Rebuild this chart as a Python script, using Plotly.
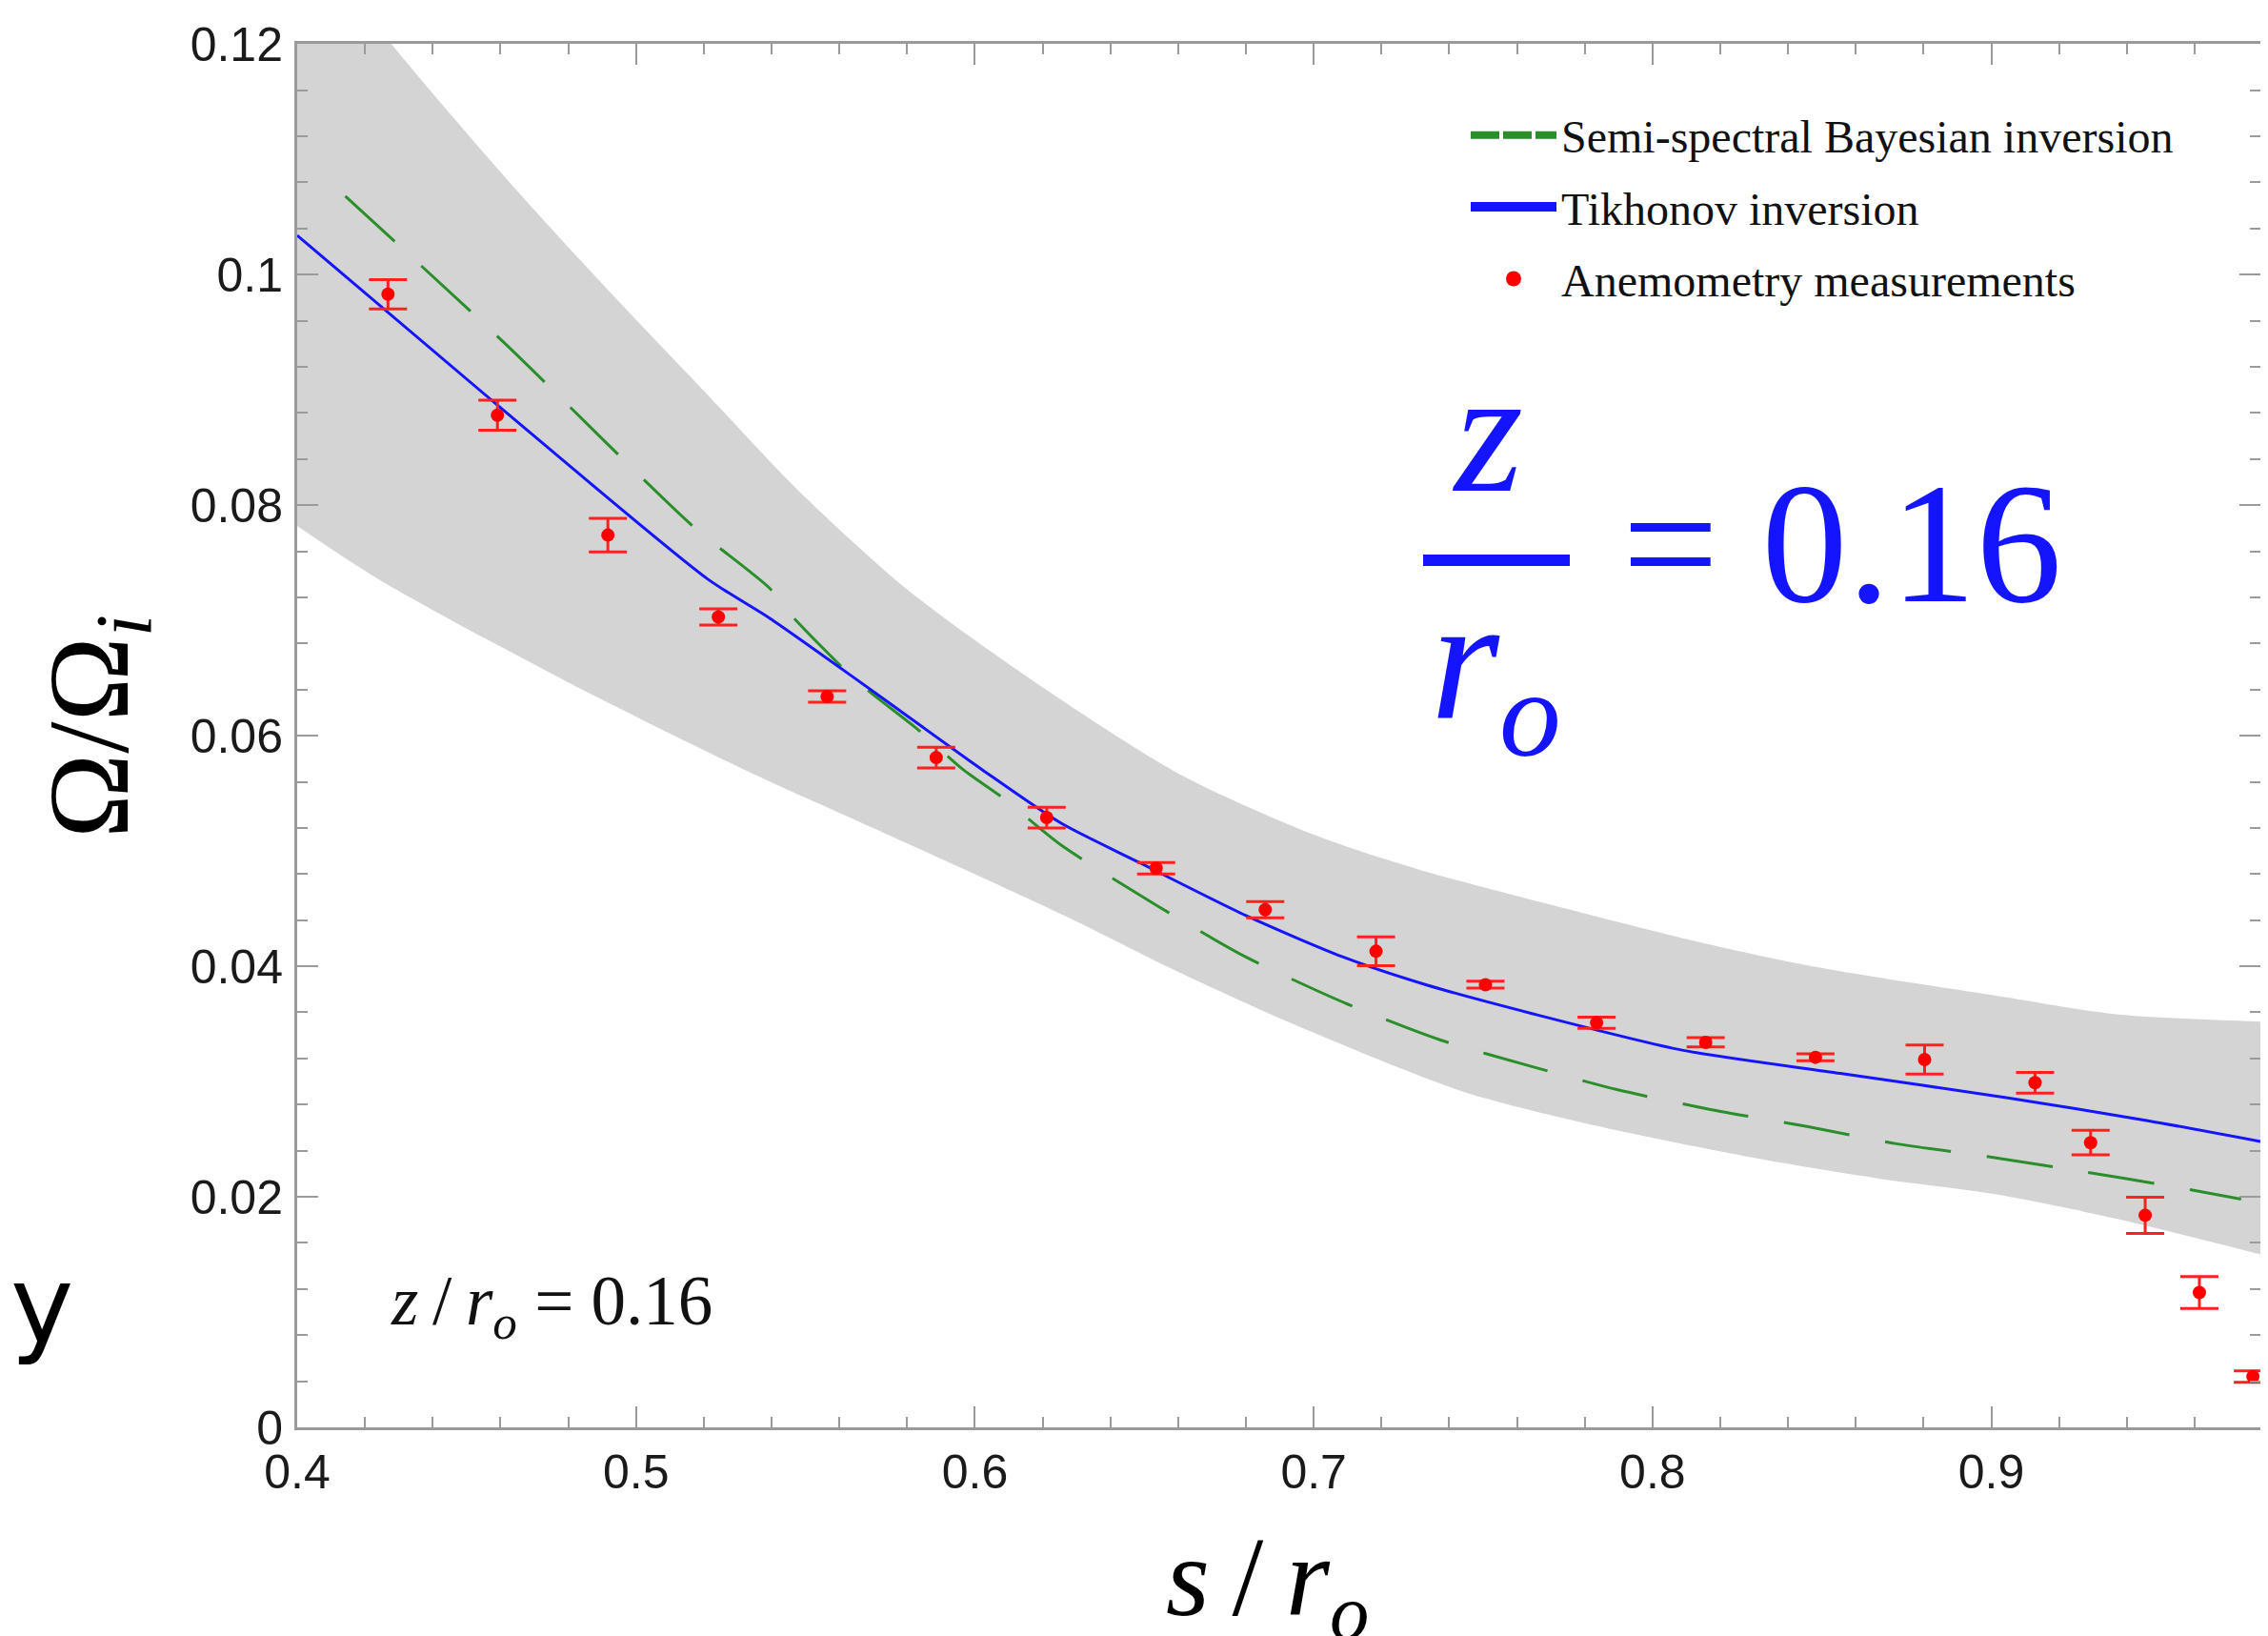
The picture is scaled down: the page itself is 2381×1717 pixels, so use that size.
import plotly.graph_objects as go

# ---------------- data ----------------
meas_x = [0.4268, 0.4591, 0.4917, 0.5243, 0.5564, 0.5886, 0.6212, 0.6535, 0.6857, 0.7184,
          0.7507, 0.7835, 0.8157, 0.8481, 0.8803, 0.9129, 0.9293, 0.9454, 0.9614, 0.9772]
meas_y = [0.0983, 0.0878, 0.0774, 0.0703, 0.0634, 0.0581, 0.0529, 0.0485, 0.0449, 0.0413,
          0.0384, 0.0351, 0.0334, 0.0321, 0.0319, 0.0299, 0.0247, 0.0184, 0.0117, 0.0044]
meas_err = [0.00127, 0.0013, 0.00145, 0.0007, 0.0005, 0.0009, 0.0009, 0.0005, 0.0007, 0.00125,
            0.0003, 0.00048, 0.0004, 0.0003, 0.00126, 0.0009, 0.00106, 0.00157, 0.00138, 0.0005]

tikh_x = [0.4, 0.459, 0.5211, 0.5394, 0.5645, 0.5796, 0.6024, 0.6255, 0.6485, 0.68,
          0.7087, 0.7331, 0.7644, 0.8091, 0.8554, 0.9044, 0.9462, 0.9794]
tikh_y = [0.1034, 0.0887, 0.0736, 0.0702, 0.065, 0.0618, 0.057, 0.0524, 0.049, 0.0444,
          0.0408, 0.0384, 0.0359, 0.0327, 0.0307, 0.0286, 0.0266, 0.0248]

bayes_x = [0.4142, 0.4607, 0.5167, 0.5394, 0.545, 0.5653, 0.5825, 0.5968, 0.6083, 0.6255,
           0.6541, 0.68, 0.7101, 0.7374, 0.7644, 0.7895, 0.8175, 0.8456, 0.872, 0.8987,
           0.9268, 0.9533, 0.9737]
bayes_y = [0.1068, 0.0942, 0.0782, 0.0728, 0.0707, 0.0647, 0.0607, 0.057, 0.0546, 0.0505,
           0.0452, 0.0408, 0.0367, 0.0336, 0.0313, 0.0293, 0.02755, 0.0261, 0.0246, 0.0235,
           0.0222, 0.0209, 0.0198]

band_up_x = [0.4, 0.4278, 0.4651, 0.4929, 0.522, 0.5478, 0.58, 0.6155, 0.6608, 0.701,
             0.7309, 0.7784, 0.8137, 0.8489, 0.9015, 0.9368, 0.9794]
band_up_y = [0.1305, 0.12, 0.1072, 0.0983, 0.0893, 0.0813, 0.0727, 0.0651, 0.0566, 0.0513,
             0.0484, 0.0447, 0.0421, 0.0399, 0.03744, 0.03583, 0.0352]
band_lo_x = [0.4, 0.425, 0.4795, 0.5316, 0.5639, 0.5962, 0.6285, 0.6608, 0.693,
             0.7433, 0.7784, 0.8313, 0.8664, 0.9015, 0.9368, 0.9794]
band_lo_y = [0.0782, 0.0734, 0.0647, 0.0571, 0.0528, 0.0485, 0.0441, 0.0394, 0.0351,
             0.0292, 0.0265, 0.0233, 0.0216, 0.0202, 0.0181, 0.015]

x_range = [0.4, 0.9794]
y_range = [0.0, 0.12002]

names = ["Semi-spectral Bayesian inversion", "Tikhonov inversion", "Anemometry measurements"]

# ---------------- styles ----------------
W, H = 2381, 1717
ML, MR, MT, MB = 304, 16, 38, 227
PW, PH = W - ML - MR, H - MT - MB

GREEN = "#2a8f2a"
BLUE = "rgb(20,20,255)"
RED = "#ff0000"
BAND = "#d4d4d4"
AXIS = "#9a9a9a"
SERIF = "Liberation Serif"
SANS = "Liberation Sans"


def pxp(x):
    return (x - ML) / PW


def pyp(y):
    return (H - MB - y) / PH


fig = go.Figure()

# uncertainty band (lower edge, then upper edge filled down to it)
fig.add_trace(go.Scatter(x=band_lo_x, y=band_lo_y, mode="lines",
                         line=dict(width=0, color=BAND, shape="spline", smoothing=0.8),
                         showlegend=False, hoverinfo="skip"))
fig.add_trace(go.Scatter(x=band_up_x, y=band_up_y, mode="lines", fill="tonexty", fillcolor=BAND,
                         line=dict(width=0, color=BAND, shape="spline", smoothing=0.8),
                         showlegend=False, hoverinfo="skip"))

fig.add_trace(go.Scatter(x=bayes_x, y=bayes_y, mode="lines",
                         line=dict(color=GREEN, width=3, dash="70px,38px", shape="spline", smoothing=0.7),
                         showlegend=False))
fig.add_trace(go.Scatter(x=tikh_x, y=tikh_y, mode="lines",
                         line=dict(color=BLUE, width=3, shape="spline", smoothing=0.7),
                         showlegend=False))
fig.add_trace(go.Scatter(x=meas_x, y=meas_y, mode="markers",
                         marker=dict(color=RED, size=14),
                         error_y=dict(type="data", array=meas_err, color="#ff2020",
                                      thickness=3, width=20),
                         showlegend=False))

# legend keys
fig.add_trace(go.Scatter(x=[None], y=[None], mode="lines", name=names[0], legendgroup="a",
                         line=dict(color=GREEN, width=8, dash="30px,4px")))
fig.add_trace(go.Scatter(x=[None], y=[None], mode="lines", name=names[1], legendgroup="b",
                         line=dict(color=BLUE, width=10)))
fig.add_trace(go.Scatter(x=[None], y=[None], mode="markers", name=names[2], legendgroup="c",
                         marker=dict(color=RED, size=16)))

axis_common = dict(showline=True, linecolor=AXIS, linewidth=3, mirror="allticks",
                   ticks="inside", tickcolor=AXIS, tickwidth=2, ticklen=22,
                   showgrid=False, zeroline=False,
                   tickfont=dict(family=SANS, size=50, color="#1a1a1a"))

fig.update_xaxes(range=x_range, tick0=0.4, dtick=0.1, ticklabelstandoff=1,
                 minor=dict(dtick=0.02, ticks="inside", ticklen=11, tickcolor=AXIS, tickwidth=2),
                 **axis_common)
fig.update_yaxes(range=y_range, tick0=0, dtick=0.02, ticklabelstandoff=2,
                 minor=dict(dtick=0.004, ticks="inside", ticklen=11, tickcolor=AXIS, tickwidth=2),
                 **axis_common)

ann = []
# axis titles
ann.append(dict(text="Ω/Ω<sub><i>i</i></sub>", x=pxp(94), y=pyp(755), xref="paper", yref="paper",
                showarrow=False, textangle=-90, xanchor="center", yanchor="middle",
                font=dict(family=SERIF, size=120, color="black")))
ann.append(dict(text="<i>s</i>\u2009/\u2009<i>r</i><sub><i>o</i></sub>", x=pxp(1322), y=pyp(1656),
                xref="paper", yref="paper", showarrow=False, xanchor="center", yanchor="middle",
                font=dict(family=SERIF, size=118, color="black")))
# stray "y"
ann.append(dict(text="y", x=pxp(36), y=pyp(1362), xref="paper", yref="paper", showarrow=False,
                xanchor="center", yanchor="middle", font=dict(family="DejaVu Sans", size=112, color="black")))
# small in-plot label
ann.append(dict(text="<i>z</i>\u2009/\u2009<i>r</i><sub><i>o</i></sub> = 0.16", x=pxp(400), y=pyp(1362),
                xref="paper", yref="paper", showarrow=False, xanchor="left", yanchor="middle",
                font=dict(family=SERIF, size=73, color="#111111")))
# big blue fraction
ann.append(dict(text="<i>z</i>", x=pxp(1553), y=pyp(445), xref="paper", yref="paper", showarrow=False,
                xanchor="center", yanchor="middle", font=dict(family=SERIF, size=185, color=BLUE)))
ann.append(dict(text="<i>r</i><sub><i>o</i></sub>", x=pxp(1562), y=pyp(697), xref="paper", yref="paper",
                showarrow=False, xanchor="center", yanchor="middle",
                font=dict(family=SERIF, size=185, color=BLUE)))
ann.append(dict(text="= 0.16", x=pxp(1926), y=pyp(562), xref="paper", yref="paper", showarrow=False,
                xanchor="center", yanchor="middle", font=dict(family=SERIF, size=180, color=BLUE)))

shapes = [dict(type="line", xref="paper", yref="paper", x0=pxp(1486), x1=pxp(1640),
               y0=pyp(580), y1=pyp(580), line=dict(color=BLUE, width=12))]

fig.update_layout(
    width=W, height=H, margin=dict(l=ML, r=MR, t=MT, b=MB),
    paper_bgcolor="white", plot_bgcolor="white",
    annotations=ann, shapes=shapes,
    showlegend=True,
    legend=dict(x=pxp(1531), y=pyp(96), xanchor="left", yanchor="top",
                bgcolor="rgba(0,0,0,0)", itemwidth=90, tracegroupgap=10,
                font=dict(family=SERIF, size=48, color="#111111")),
)

fig.write_html("out.html")
